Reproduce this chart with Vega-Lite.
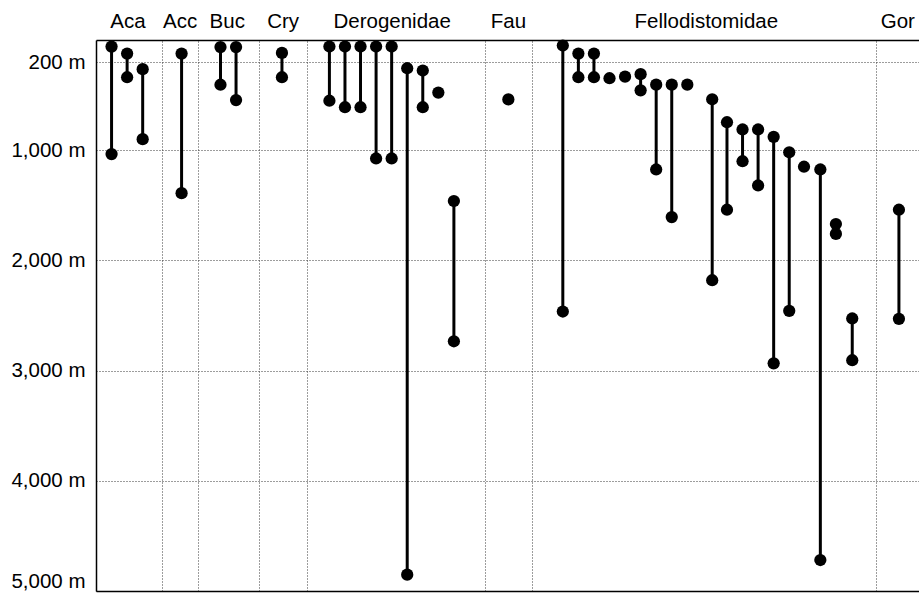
{
  "$schema": "https://vega.github.io/schema/vega-lite/v6.json",
  "width": 823,
  "height": 551,
  "autosize": "none",
  "padding": {"left": 96, "top": 40, "right": 0, "bottom": 5},
  "background": "white",
  "config": {"view": {"stroke": null}, "font": "Liberation Sans"},
  "data": {
    "values": [
      {"family": "Aca", "x": 1, "lo": 60, "hi": 1035},
      {"family": "Aca", "x": 2, "lo": 123, "hi": 338},
      {"family": "Aca", "x": 3, "lo": 265, "hi": 900},
      {"family": "Acc", "x": 5.5, "lo": 123, "hi": 1390},
      {"family": "Buc", "x": 8, "lo": 64, "hi": 406},
      {"family": "Buc", "x": 9, "lo": 64, "hi": 545},
      {"family": "Cry", "x": 11.95, "lo": 117, "hi": 338},
      {"family": "Derogenidae", "x": 15, "lo": 59, "hi": 551},
      {"family": "Derogenidae", "x": 16, "lo": 59, "hi": 610},
      {"family": "Derogenidae", "x": 17, "lo": 59, "hi": 610},
      {"family": "Derogenidae", "x": 18, "lo": 59, "hi": 1075},
      {"family": "Derogenidae", "x": 19, "lo": 59, "hi": 1075},
      {"family": "Derogenidae", "x": 20, "lo": 256, "hi": 4852},
      {"family": "Derogenidae", "x": 21, "lo": 277, "hi": 610},
      {"family": "Derogenidae", "x": 22, "lo": 477},
      {"family": "Derogenidae", "x": 23, "lo": 1461, "hi": 2734},
      {"family": "Fau", "x": 26.5, "lo": 539},
      {"family": "Fellodistomidae", "x": 30, "lo": 50, "hi": 2464},
      {"family": "Fellodistomidae", "x": 31, "lo": 123, "hi": 338},
      {"family": "Fellodistomidae", "x": 32, "lo": 123, "hi": 338},
      {"family": "Fellodistomidae", "x": 33, "lo": 347},
      {"family": "Fellodistomidae", "x": 34, "lo": 333},
      {"family": "Fellodistomidae", "x": 35, "lo": 310, "hi": 457},
      {"family": "Fellodistomidae", "x": 36, "lo": 405, "hi": 1175},
      {"family": "Fellodistomidae", "x": 37, "lo": 405, "hi": 1607},
      {"family": "Fellodistomidae", "x": 38, "lo": 405},
      {"family": "Fellodistomidae", "x": 39.6, "lo": 538, "hi": 2180},
      {"family": "Fellodistomidae", "x": 40.55, "lo": 746, "hi": 1540},
      {"family": "Fellodistomidae", "x": 41.55, "lo": 812, "hi": 1100},
      {"family": "Fellodistomidae", "x": 42.55, "lo": 812, "hi": 1320},
      {"family": "Fellodistomidae", "x": 43.55, "lo": 879, "hi": 2934},
      {"family": "Fellodistomidae", "x": 44.55, "lo": 1019, "hi": 2458},
      {"family": "Fellodistomidae", "x": 45.5, "lo": 1150},
      {"family": "Fellodistomidae", "x": 46.55, "lo": 1175, "hi": 4719},
      {"family": "Fellodistomidae", "x": 47.55, "lo": 1670, "hi": 1760},
      {"family": "Fellodistomidae", "x": 48.6, "lo": 2527, "hi": 2906},
      {"family": "Gor", "x": 51.6, "lo": 1540, "hi": 2530}
    ]
  },
  "layer": [
    {
      "transform": [{"filter": "isValid(datum.hi)"}],
      "mark": {"type": "rule", "color": "black", "strokeWidth": 3},
      "encoding": {
        "x": {
          "field": "x", "type": "quantitative",
          "scale": {"domain": [0, 52.89], "nice": false, "zero": false},
          "axis": {
            "orient": "top", "title": null,
            "values": [2.02, 5.37, 8.4, 11.99, 19.0, 26.47, 39.19, 51.5],
            "labelExpr": "datum.value < 3 ? 'Aca' : datum.value < 6 ? 'Acc' : datum.value < 10 ? 'Buc' : datum.value < 13 ? 'Cry' : datum.value < 24 ? 'Derogenidae' : datum.value < 27 ? 'Fau' : datum.value < 45 ? 'Fellodistomidae' : 'Gor'",
            "grid": false, "ticks": false, "domain": true,
            "domainColor": "black", "domainWidth": 1.5,
            "labelFontSize": 20.5, "labelColor": "black", "labelPadding": 9,
            "labelFlush": false, "labelOverlap": false, "labelBound": false
          }
        },
        "y": {
          "field": "lo", "type": "quantitative",
          "scale": {"domain": [0, 5000], "reverse": true, "nice": false, "zero": false},
          "axis": {
            "title": null, "values": [200, 1000, 2000, 3000, 4000, 5000],
            "labelExpr": "format(datum.value, ',') + ' m'",
            "grid": true, "gridColor": "#3a3a3a", "gridDash": [1, 2], "gridWidth": 1,
            "ticks": false, "domain": true, "domainColor": "black", "domainWidth": 1.5,
            "labelFontSize": 20.5, "labelColor": "black", "labelPadding": 11,
            "labelFlush": true, "labelOverlap": false
          }
        },
        "y2": {"field": "hi"}
      }
    },
    {
      "transform": [{"fold": ["lo", "hi"], "as": ["end", "depth"]}],
      "mark": {"type": "circle", "color": "black", "opacity": 1, "size": 150},
      "encoding": {
        "x": {
          "field": "x", "type": "quantitative",
          "axis": {
            "orient": "bottom", "title": null,
            "values": [4.24, 6.54, 10.48, 13.54, 25.0, 28.0, 50.1],
            "labels": false, "ticks": false, "grid": true,
            "gridColor": "#3a3a3a", "gridDash": [1, 2], "gridWidth": 1,
            "domain": true, "domainColor": "black", "domainWidth": 1.5
          }
        },
        "y": {
          "field": "depth", "type": "quantitative",
          "axis": {
            "title": null, "values": [200, 1000, 2000, 3000, 4000, 5000],
            "labelExpr": "format(datum.value, ',') + ' m'",
            "grid": true, "gridColor": "#3a3a3a", "gridDash": [1, 2], "gridWidth": 1,
            "ticks": false, "domain": true, "domainColor": "black", "domainWidth": 1.5,
            "labelFontSize": 20.5, "labelColor": "black", "labelPadding": 11,
            "labelFlush": true, "labelOverlap": false
          }
        }
      }
    }
  ],
  "resolve": {"axis": {"x": "independent"}}
}
